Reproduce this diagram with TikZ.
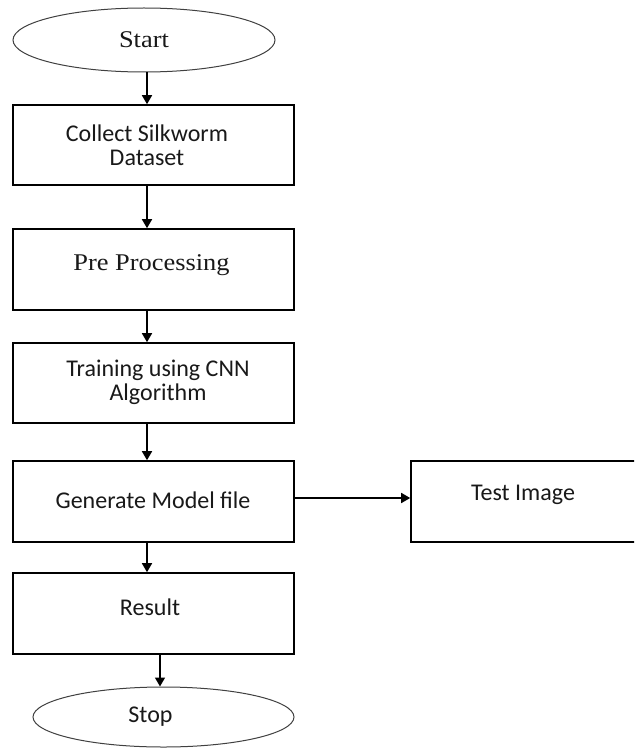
\documentclass[tikz,border=0pt]{standalone}
\usepackage{fontspec}
\usetikzlibrary{shapes.geometric,arrows.meta}
\setmainfont{Carlito}
\newfontfamily\cambriaish[FakeStretch=1.1]{Liberation Serif}
\tikzset{
  boxnode/.style={draw=black, line width=1.6pt, rectangle, minimum width=281pt, inner sep=0pt},
  ovalnode/.style={draw=black!75, line width=1pt, ellipse, inner sep=0pt},
  lbl/.style={inner sep=0pt, align=center, text=black!90, font=\fontsize{24}{24}\selectfont},
  serlbl/.style={inner sep=0pt, align=center, text=black!90, font=\cambriaish\fontsize{24}{24}\selectfont},
  arr/.style={draw=black, line width=1.6pt, -{Triangle[length=9pt,width=10pt]}}
}
\begin{document}
\begin{tikzpicture}[x=1pt, y=-1pt]
\useasboundingbox (0,0) rectangle (634,749);
\clip (0,0) rectangle (634,749);
\fill[white] (0,0) rectangle (634,749);
% shapes
\node[ovalnode, minimum width=262pt, minimum height=64pt] (start) at (144,40) {};
\node[boxnode, minimum height=80pt] (b1) at (153.5,145) {};
\node[boxnode, minimum height=81pt] (b2) at (153.5,269.5) {};
\node[boxnode, minimum height=80pt] (b3) at (153.5,383) {};
\node[boxnode, minimum height=81pt] (b4) at (153.5,501.5) {};
\node[boxnode, minimum height=81pt] (b5) at (153.5,613.5) {};
\node[boxnode, minimum width=240pt, minimum height=81pt] (test) at (531,501.5) {};
\node[ovalnode, minimum width=261pt, minimum height=60pt] (stop) at (163.5,717) {};
% labels
\node[serlbl] (tstart) at (144,40) {Start};
\node[lbl] (t1) at (147,145) {Collect Silkworm\\Dataset};
\node[serlbl] (t2) at (151.5,265) {Pre Processing};
\node[lbl] (t3) at (158,382.5) {Training using CNN\\Algorithm};
\node[lbl] (t4) at (153,500) {Generate Model file};
\node[lbl] (ttest) at (523,495) {Test Image};
\node[lbl] (t5) at (150,607) {Result};
\node[lbl] (tstop) at (150.5,717) {Stop};
% connectors
\draw[arr] ([xshift=3pt]start.south) -- ([xshift=-6.5pt]b1.north);
\draw[arr] ([xshift=-6.5pt]b1.south) -- ([xshift=-6.5pt]b2.north);
\draw[arr] ([xshift=-6.5pt]b2.south) -- ([xshift=-6.5pt]b3.north);
\draw[arr] ([xshift=-6.5pt]b3.south) -- ([xshift=-6.5pt]b4.north);
\draw[arr] ([xshift=-6.5pt]b4.south) -- ([xshift=-6.5pt]b5.north);
\draw[arr] ([xshift=6.5pt]b5.south) -- ([xshift=-3.5pt]stop.north);
\draw[arr] ([yshift=3.5pt]b4.east) -- ([yshift=3.5pt]test.west);
\end{tikzpicture}
\end{document}
